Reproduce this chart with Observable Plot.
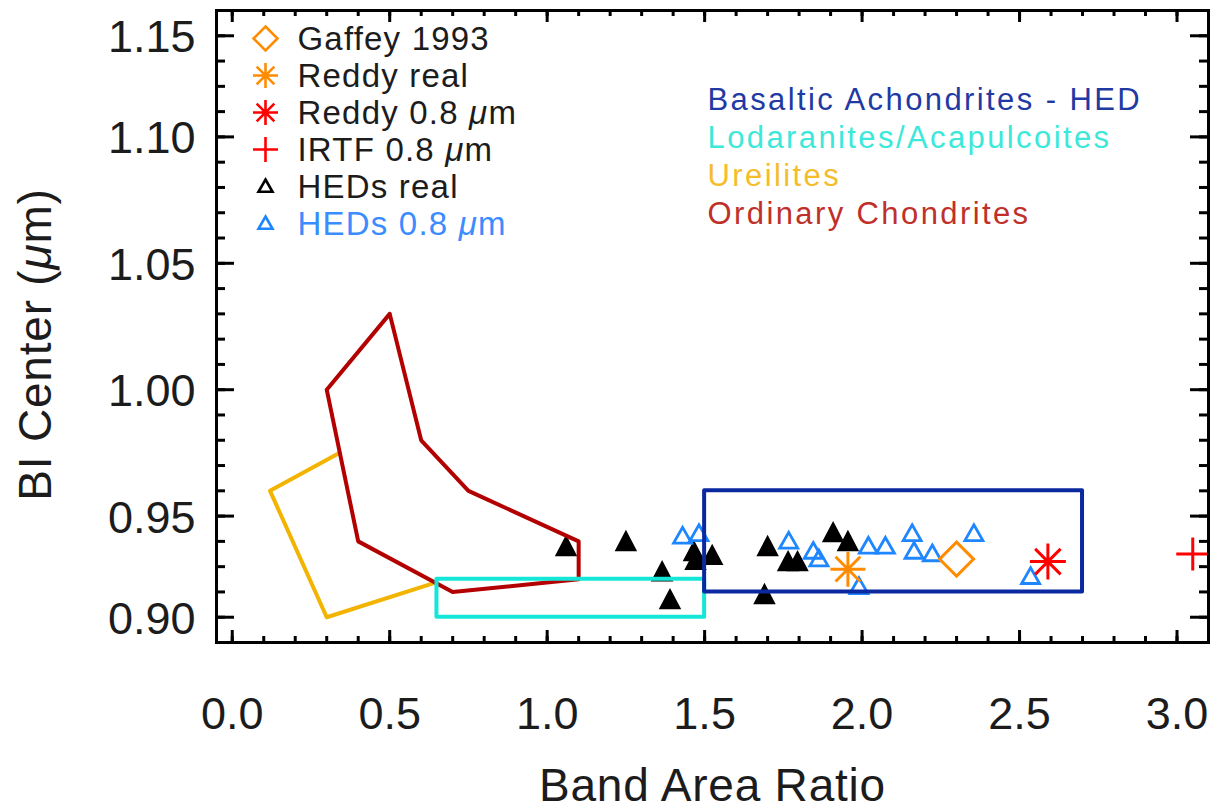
<!DOCTYPE html>
<html>
<head>
<meta charset="utf-8">
<script src="https://cdn.jsdelivr.net/npm/d3@7"></script>
<script src="https://cdn.jsdelivr.net/npm/@observablehq/plot@0.6"></script>
<style>
  html, body { margin: 0; padding: 0; background: #fff; }
  #chart svg { display: block; }
</style>
</head>
<body>
<div id="chart"></div>
<script>
// ---- Axis ticks ----
const xTickValues = [0.0, 0.5, 1.0, 1.5, 2.0, 2.5, 3.0];
const xTickLabels = ["0.0", "0.5", "1.0", "1.5", "2.0", "2.5", "3.0"];
const yTickValues = [0.91, 0.95, 1.00, 1.05, 1.10, 1.14];
const yTickLabels = ["0.90", "0.95", "1.00", "1.05", "1.10", "1.15"];

// ---- Meteorite class regions (Band Area Ratio, Band I center) ----
const ocBA = [0.50, 0.30, 0.40, 0.70, 1.10, 1.10, 0.75, 0.60, 0.50];
const ocBI = [1.030, 1.000, 0.940, 0.920, 0.925, 0.940, 0.960, 0.980, 1.030];
const urBA = [0.34, 0.12, 0.30, 0.64];
const urBI = [0.975, 0.960, 0.910, 0.9235];
const laBA = [0.65, 1.50];   // x1, x2
const laBI = [0.910, 0.925]; // y1, y2
const hedBoxBA = [1.50, 2.70];
const hedBoxBI = [0.920, 0.960];

const classNames = ["Basaltic Achondrites - HED", "Lodaranites/Acapulcoites", "Ureilites", "Ordinary Chondrites"];
const classColors = ["#0a28a0", "#14e6d8", "#f2b400", "#b30000"];
const classTextColors = ["#1f3aa3", "#3ce8da", "#f4bd2c", "#c0302a"];

// ---- Measurements ----
const hedRealBA = [1.06, 1.25, 1.365, 1.39, 1.466, 1.471, 1.524, 1.70, 1.69, 1.765, 1.795, 1.908, 1.955];
const hedRealBI = [0.938, 0.940, 0.928, 0.917, 0.936, 0.9325, 0.9345, 0.938, 0.919, 0.932, 0.932, 0.9435, 0.940];
const hed08BA = [1.43, 1.482, 1.767, 1.845, 1.863, 1.99, 2.02, 2.074, 2.159, 2.165, 2.223, 2.355, 2.535];
const hed08BI = [0.942, 0.943, 0.940, 0.936, 0.933, 0.922, 0.938, 0.938, 0.943, 0.936, 0.935, 0.943, 0.926];
const gaffeyBA = [2.30];
const gaffeyBI = [0.933];
const reddyRealBA = [1.955];
const reddyRealBI = [0.929];
const reddy08BA = [2.59];
const reddy08BI = [0.932];
const irtf08BA = [3.05];
const irtf08BI = [0.935];

const legendLabels = ["Gaffey 1993", "Reddy real", "Reddy 0.8 μm", "IRTF 0.8 μm", "HEDs real", "HEDs 0.8 μm"];

// ---- Symbols (r = half extent) ----
const rad = size => Math.sqrt(size / Math.PI);
const asterisk8 = {draw(c, size) {
  const r = rad(size), d = r * Math.SQRT1_2;
  c.moveTo(-r, 0); c.lineTo(r, 0);
  c.moveTo(0, -r); c.lineTo(0, r);
  c.moveTo(-d, -d); c.lineTo(d, d);
  c.moveTo(-d, d); c.lineTo(d, -d);
}};
const plusSym = {draw(c, size) {
  const r = rad(size);
  c.moveTo(-r, 0); c.lineTo(r, 0);
  c.moveTo(0, -r); c.lineTo(0, r);
}};
const diamondSym = {draw(c, size) {
  const r = rad(size);
  c.moveTo(0, -r); c.lineTo(r, 0); c.lineTo(0, r); c.lineTo(-r, 0); c.closePath();
}};
const triangleSym = {draw(c, size) {
  const r = rad(size);
  c.moveTo(0, -r); c.lineTo(r, 0.75 * r); c.lineTo(-r, 0.75 * r); c.closePath();
}};
const triangleTallSym = {draw(c, size) {
  const r = rad(size);
  c.moveTo(0, -r); c.lineTo(r, 0.9 * r); c.lineTo(-r, 0.9 * r); c.closePath();
}};

const pts = (xs, ys) => xs.map((ba, i) => ({ba, bi: ys[i]}));
const hedReal = pts(hedRealBA, hedRealBI);
const hed08 = pts(hed08BA, hed08BI);
const gaffey = pts(gaffeyBA, gaffeyBI);
const reddyReal = pts(reddyRealBA, reddyRealBI);
const reddy08 = pts(reddy08BA, reddy08BI);
const irtf08 = pts(irtf08BA, irtf08BI);
const oc = pts(ocBA, ocBI);
const ur = pts(urBA, urBI);

const orange = "#ff8c00", red = "#ff0000", blue = "#1e86ff", ink = "#1c1c1c";

const W = 1220, H = 810;
const mL = 216, mR = 12, mT = 10, mB = 168;
const plotW = W - mL - mR, plotH = H - mT - mB;
const font = "Liberation Sans, Arial, sans-serif";

const xMinor = d3.range(0, 31).map(i => i / 10);
const yMinor = d3.range(91, 115).map(i => i / 100);

// Inward ticks on all four sides of the box
function boxTicks() {
  const s = {stroke: "black", strokeWidth: 3, strokeLinecap: "butt"};
  return [
    Plot.tickX(xMinor, {x: d => d, insetTop: plotH - 6, ...s}),
    Plot.tickX(xTickValues, {x: d => d, insetTop: plotH - 12, ...s}),
    Plot.tickX(xMinor, {x: d => d, insetBottom: plotH - 6, ...s}),
    Plot.tickX(xTickValues, {x: d => d, insetBottom: plotH - 12, ...s}),
    Plot.tickY(yMinor, {y: d => d, insetRight: plotW - 9, ...s}),
    Plot.tickY(yTickValues, {y: d => d, insetRight: plotW - 18, ...s}),
    Plot.tickY(yMinor, {y: d => d, insetLeft: plotW - 9, ...s}),
    Plot.tickY(yTickValues, {y: d => d, insetLeft: plotW - 18, ...s})
  ];
}

const legendSymbols = [
  {symbol: diamondSym, stroke: orange, r: 12, fill: "none"},
  {symbol: asterisk8, stroke: orange, r: 12.5, fill: "none"},
  {symbol: asterisk8, stroke: red, r: 12.5, fill: "none"},
  {symbol: plusSym, stroke: red, r: 12.5, fill: "none"},
  {symbol: triangleSym, stroke: "black", r: 7, fill: "none"},
  {symbol: triangleSym, stroke: blue, r: 7, fill: "none"}
];
const legendTextColors = [ink, ink, ink, ink, ink, "#3a8cff"];

const legendMarks = legendLabels.flatMap((label, i) => [
  Plot.dot([label], {frameAnchor: "top-left", dx: 49, dy: 28 + 37 * i, strokeWidth: 2.6, ...legendSymbols[i]}),
  Plot.text([label], {frameAnchor: "top-left", dx: 81, dy: 29 + 37 * i, text: d => d, textAnchor: "start",
    lineAnchor: "middle", fontSize: 33, fill: legendTextColors[i]})
]);

const classMarks = classNames.map((name, i) =>
  Plot.text([name], {frameAnchor: "top-left", dx: 491, dy: 99 + 38 * i, text: d => d, textAnchor: "start",
    lineAnchor: "bottom", fontSize: 31, fill: classTextColors[i]})
);

const chart = Plot.plot({
  width: W, height: H,
  marginLeft: mL, marginRight: mR, marginTop: mT, marginBottom: mB,
  style: {fontFamily: font, background: "white", overflow: "visible"},
  x: {domain: [-0.05, 3.10], axis: null},
  y: {domain: [0.90, 1.15], axis: null},
  marks: [
    // measurements
    Plot.dot(hedReal, {x: "ba", y: "bi", symbol: triangleTallSym, r: 10, fill: "black", stroke: "black", strokeWidth: 1.5}),
    Plot.dot(hed08, {x: "ba", y: "bi", symbol: triangleSym, r: 9, fill: "none", stroke: blue, strokeWidth: 2.8}),
    Plot.dot(reddyReal, {x: "ba", y: "bi", symbol: asterisk8, r: 17.5, fill: "none", stroke: orange, strokeWidth: 3}),
    Plot.dot(gaffey, {x: "ba", y: "bi", symbol: diamondSym, r: 17, fill: "none", stroke: orange, strokeWidth: 3}),
    Plot.dot(reddy08, {x: "ba", y: "bi", symbol: asterisk8, r: 18, fill: "none", stroke: red, strokeWidth: 3}),
    Plot.dot(irtf08, {x: "ba", y: "bi", symbol: plusSym, r: 16.5, fill: "none", stroke: red, strokeWidth: 3}),
    // class regions
    Plot.line(ur, {x: "ba", y: "bi", stroke: classColors[2], strokeWidth: 4, curve: "linear"}),
    Plot.line(oc, {x: "ba", y: "bi", stroke: classColors[3], strokeWidth: 4, curve: "linear"}),
    Plot.rect([0], {x1: laBA[0], x2: laBA[1], y1: laBI[0], y2: laBI[1], fill: "none", stroke: classColors[1], strokeWidth: 4, strokeLinejoin: "round"}),
    Plot.rect([0], {x1: hedBoxBA[0], x2: hedBoxBA[1], y1: hedBoxBI[0], y2: hedBoxBI[1], fill: "none", stroke: classColors[0], strokeWidth: 4, strokeLinejoin: "round"}),
    // box and ticks
    Plot.frame({stroke: "black", strokeWidth: 3}),
    ...boxTicks(),
    // tick labels
    Plot.text(xTickValues, {x: d => d, frameAnchor: "bottom", dy: 86, lineAnchor: "bottom",
      text: (d, i) => xTickLabels[i], fontSize: 45, fill: ink}),
    Plot.text(yTickValues, {y: d => d, frameAnchor: "left", dx: -21, dy: 2, textAnchor: "end",
      lineAnchor: "middle", text: (d, i) => yTickLabels[i], fontSize: 45, fill: ink}),
    // axis titles
    Plot.text(["Band Area Ratio"], {frameAnchor: "bottom", dy: 158, lineAnchor: "bottom", textAnchor: "middle",
      text: d => d, fontSize: 46, fill: ink}),
    Plot.text(["BI Center (μm)"], {frameAnchor: "left", dx: -166, dy: 18, rotate: -90, lineAnchor: "bottom",
      textAnchor: "middle", text: d => d, fontSize: 46, fill: ink}),
    ...legendMarks,
    ...classMarks
  ]
});

document.getElementById("chart").append(chart);

// Letter spacing for the annotation text, and italic μ
const svg = d3.select(chart);
const legendSet = new Set(legendLabels), classSet = new Set(classNames);
svg.selectAll("text").each(function () {
  const t = this.textContent;
  if (legendSet.has(t)) this.style.letterSpacing = "1.2px";
  if (classSet.has(t)) this.style.letterSpacing = "2.4px";
  if (t === "BI Center (μm)" || t === "Band Area Ratio") this.style.letterSpacing = "0.8px";
  if (t.includes("μ") && this.children.length === 0) {
    const parts = t.split("μ");
    this.textContent = "";
    const sel = d3.select(this);
    parts.forEach((p, i) => {
      if (i > 0) sel.append("tspan").attr("font-style", "italic").text("μ");
      if (p) sel.append("tspan").text(p);
    });
  }
});
</script>
</body>
</html>
